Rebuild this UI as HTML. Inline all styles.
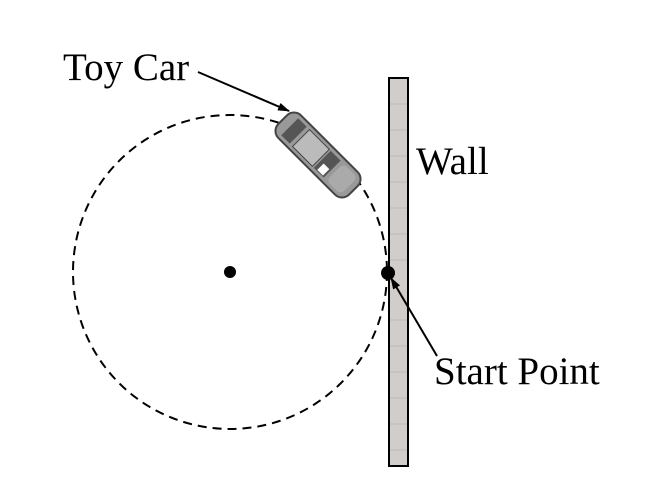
<!DOCTYPE html>
<html><head><style>body{margin:0;background:#fff}</style></head><body>
<svg width="649" height="486" xmlns="http://www.w3.org/2000/svg">
<defs><marker id="a" markerWidth="12" markerHeight="8" refX="11" refY="4" orient="auto" markerUnits="userSpaceOnUse"><path d="M0,0 L12,4 L0,8 Z" fill="#000"/></marker></defs>
<circle cx="230" cy="272" r="157" fill="none" stroke="#000" stroke-width="2" stroke-dasharray="9,6"/>
<rect x="389" y="78" width="19" height="388" fill="#d0cdca" stroke="#000" stroke-width="2"/>
<g stroke="#bbb" stroke-width="1">
<line x1="390" y1="104" x2="407" y2="104"/><line x1="390" y1="130" x2="407" y2="130"/><line x1="390" y1="156" x2="407" y2="156"/><line x1="390" y1="182" x2="407" y2="182"/><line x1="390" y1="208" x2="407" y2="208"/><line x1="390" y1="234" x2="407" y2="234"/><line x1="390" y1="260" x2="407" y2="260"/><line x1="390" y1="320" x2="407" y2="320"/><line x1="390" y1="346" x2="407" y2="346"/><line x1="390" y1="372" x2="407" y2="372"/><line x1="390" y1="398" x2="407" y2="398"/><line x1="390" y1="424" x2="407" y2="424"/><line x1="390" y1="450" x2="407" y2="450"/>
</g>
<circle cx="230" cy="272" r="6" fill="#000"/>
<circle cx="388" cy="273" r="7" fill="#000"/>
<g transform="translate(318,155) rotate(45)">
<rect x="-50" y="-16" width="100" height="32" rx="10" fill="#999" stroke="#444" stroke-width="2"/>
<rect x="-40" y="-12" width="12" height="24" fill="#555"/>
<rect x="-24" y="-12" width="28" height="24" fill="#bbb" stroke="#444"/>
<rect x="6" y="-12" width="14" height="24" fill="#555"/>
<rect x="10" y="2" width="8" height="9" fill="#fff"/>
<rect x="24" y="-12" width="20" height="24" rx="5" fill="#aaa"/>
</g>
<line x1="198" y1="72" x2="289" y2="111" stroke="#000" stroke-width="2" marker-end="url(#a)"/>
<line x1="437" y1="356" x2="391" y2="278" stroke="#000" stroke-width="2" marker-end="url(#a)"/>
<g font-family="Liberation Serif, serif" font-size="39" fill="#000">
<text x="63" y="80">Toy Car</text>
<text x="416" y="174">Wall</text>
<text x="434" y="384">Start Point</text>
</g>
</svg>
</body></html>
